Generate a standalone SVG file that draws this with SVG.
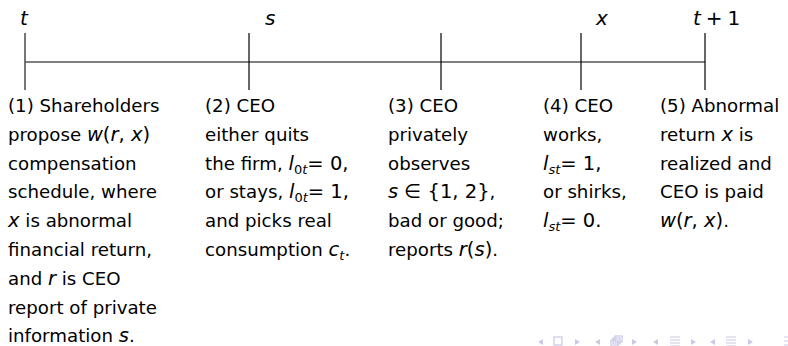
<svg xmlns="http://www.w3.org/2000/svg" width="788" height="346" viewBox="0 0 788 346">
<style>
text{font-family:"DejaVu Sans","Liberation Sans",sans-serif;font-size:18.2px;fill:#000}
.m{font-style:italic;font-size:19.5px}
.mu{font-size:19.5px}
.sub{font-size:13px}
.top{font-size:20px}
.tick{stroke:#000;stroke-width:1.2}
.nav{fill:#c9c9e6;stroke:none}
.navs{fill:none;stroke:#c9c9e6;stroke-width:1.2}
</style>
<rect width="788" height="346" fill="#fff"/>
<g id="timeline">
<line x1="25" y1="62" x2="705" y2="62" stroke="#000" stroke-width="1"/>
<line class="tick" x1="25" y1="33" x2="25" y2="90" style="stroke:#555;stroke-width:1.6"/>
<line class="tick" x1="249" y1="33" x2="249" y2="90"/>
<line class="tick" x1="441" y1="33" x2="441" y2="90"/>
<line class="tick" x1="581" y1="33" x2="581" y2="90"/>
<line class="tick" x1="705" y1="33" x2="705" y2="90"/>
</g>
<g id="top-labels">
<text x="20" y="25" class="m top">t</text>
<text x="265" y="25" class="m top">s</text>
<text x="596" y="25" class="m top">x</text>
<text x="693" y="25" class="top"><tspan class="m top">t</tspan><tspan dx="5">+</tspan><tspan dx="5">1</tspan></text>
</g>
<g id="step1">
<text x="8" y="112">(1) Shareholders</text>
<text x="8" y="141">propose <tspan class="m">w</tspan><tspan class="mu">(</tspan><tspan class="m">r</tspan><tspan class="mu">, </tspan><tspan class="m">x</tspan><tspan class="mu">)</tspan></text>
<text x="8" y="170">compensation</text>
<text x="8" y="198">schedule, where</text>
<text x="8" y="227"><tspan class="m">x</tspan> is abnormal</text>
<text x="8" y="256">financial return,</text>
<text x="8" y="285">and <tspan class="m">r</tspan> is CEO</text>
<text x="8" y="314">report of private</text>
<text x="8" y="342">information <tspan class="m">s</tspan>.</text>
</g>
<g id="step2">
<text x="205" y="112">(2) CEO</text>
<text x="205" y="141">either quits</text>
<text x="205" y="170">the firm, <tspan class="m">l</tspan><tspan class="sub" dy="4">0<tspan class="m sub">t</tspan></tspan><tspan class="mu" dy="-4">= 0,</tspan></text>
<text x="205" y="198">or stays, <tspan class="m">l</tspan><tspan class="sub" dy="4">0<tspan class="m sub">t</tspan></tspan><tspan class="mu" dy="-4">= 1,</tspan></text>
<text x="205" y="227">and picks real</text>
<text x="205" y="256">consumption <tspan class="m">c</tspan><tspan class="m sub" dy="4">t</tspan><tspan dy="-4">.</tspan></text>
</g>
<g id="step3">
<text x="388" y="112">(3) CEO</text>
<text x="388" y="141">privately</text>
<text x="388" y="170">observes</text>
<text x="388" y="198"><tspan class="m">s</tspan><tspan class="mu"> ∈ {1, 2}</tspan>,</text>
<text x="388" y="227">bad or good;</text>
<text x="388" y="256">reports <tspan class="m">r</tspan><tspan class="mu">(</tspan><tspan class="m">s</tspan><tspan class="mu">)</tspan>.</text>
</g>
<g id="step4">
<text x="543" y="112">(4) CEO</text>
<text x="543" y="141">works,</text>
<text x="543" y="170"><tspan class="m">l</tspan><tspan class="m sub" dy="4">st</tspan><tspan class="mu" dy="-4">= 1,</tspan></text>
<text x="543" y="198">or shirks,</text>
<text x="543" y="227"><tspan class="m">l</tspan><tspan class="m sub" dy="4">st</tspan><tspan class="mu" dy="-4">= 0.</tspan></text>
</g>
<g id="step5">
<text x="660" y="112">(5) Abnormal</text>
<text x="660" y="141">return <tspan class="m">x</tspan> is</text>
<text x="660" y="170">realized and</text>
<text x="660" y="198">CEO is paid</text>
<text x="660" y="227"><tspan class="m">w</tspan><tspan class="mu">(</tspan><tspan class="m">r</tspan><tspan class="mu">, </tspan><tspan class="m">x</tspan><tspan class="mu">)</tspan>.</text>
</g>
<g id="nav">
<polygon class="nav" points="538,342 543,339 543,345"/>
<rect class="navs" x="554" y="337" width="8" height="8"/>
<polygon class="nav" points="580,342 575,339 575,345"/>
<polygon class="nav" points="595,342 600,339 600,345"/>
<rect class="navs" x="611" y="340" width="7" height="6"/>
<rect class="navs" x="613" y="338" width="7" height="6"/>
<rect class="navs" x="615" y="336" width="7" height="6"/>
<polygon class="nav" points="637,342 632,339 632,345"/>
<polygon class="nav" points="653,342 658,339 658,345"/>
<path class="navs" d="M670,337h10M670,340h10M670,343h10M670,346h10"/>
<polygon class="nav" points="696,342 691,339 691,345"/>
<polygon class="nav" points="710,342 715,339 715,345"/>
<path class="navs" d="M726,337h10M726,340h10M726,343h10M726,346h10"/>
<polygon class="nav" points="753,342 748,339 748,345"/>
<path class="navs" d="M784,337h4M784,341h4M784,345h4"/>
</g>
</svg>
